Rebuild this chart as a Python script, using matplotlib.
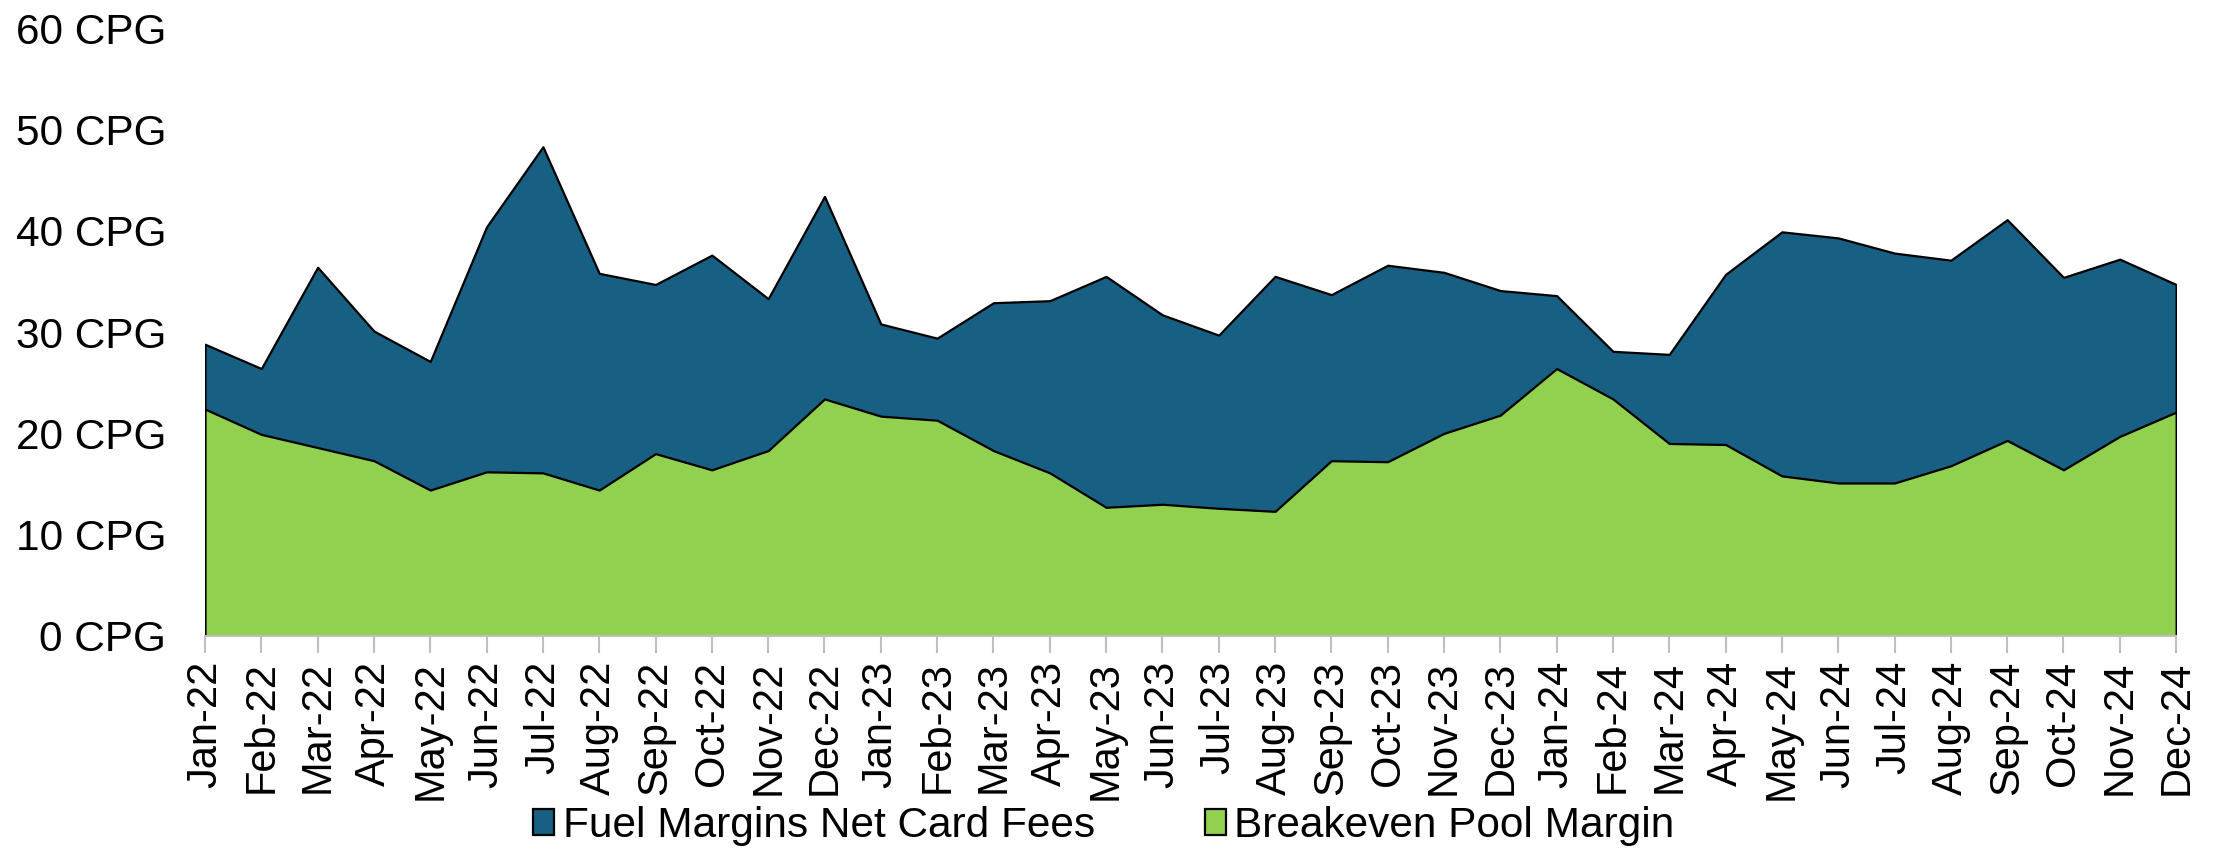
import numpy as np
import matplotlib.pyplot as plt

plt.rcParams['font.family'] = ['Liberation Sans', 'DejaVu Sans']

# Monthly labels
months = ['Jan-22', 'Feb-22', 'Mar-22', 'Apr-22', 'May-22', 'Jun-22', 'Jul-22', 'Aug-22',
          'Sep-22', 'Oct-22', 'Nov-22', 'Dec-22', 'Jan-23', 'Feb-23', 'Mar-23', 'Apr-23',
          'May-23', 'Jun-23', 'Jul-23', 'Aug-23', 'Sep-23', 'Oct-23', 'Nov-23', 'Dec-23',
          'Jan-24', 'Feb-24', 'Mar-24', 'Apr-24', 'May-24', 'Jun-24', 'Jul-24', 'Aug-24',
          'Sep-24', 'Oct-24', 'Nov-24', 'Dec-24']

# Fuel margins net card fees (CPG)
fuel_margin = [28.8, 26.4, 36.4, 30.1, 27.1, 40.4, 48.3, 35.8, 34.7, 37.6, 33.3, 43.4,
               30.8, 29.4, 32.9, 33.1, 35.5, 31.7, 29.7, 35.5, 33.7, 36.6, 35.9, 34.1,
               33.6, 28.1, 27.8, 35.7, 39.9, 39.3, 37.8, 37.1, 41.1, 35.4, 37.2, 34.7]

# Breakeven pool margin (CPG)
breakeven = [22.4, 19.9, 18.6, 17.3, 14.4, 16.2, 16.1, 14.4, 18.0, 16.4, 18.3, 23.4,
             21.7, 21.3, 18.3, 16.1, 12.7, 13.0, 12.6, 12.3, 17.3, 17.2, 20.0, 21.8,
             26.4, 23.4, 19.0, 18.9, 15.8, 15.1, 15.1, 16.8, 19.3, 16.4, 19.7, 22.1]

y_ticks = [0, 10, 20, 30, 40, 50, 60]

x = np.arange(len(months))

fig = plt.figure(figsize=(22.21, 8.57), dpi=100)
ax = fig.add_axes([0.0923, 0.258, 0.8875, 0.709])

ax.fill_between(x, 0, fuel_margin, facecolor='#176083', edgecolor='black',
                linewidth=1.6, label='Fuel Margins Net Card Fees', zorder=2)
ax.fill_between(x, 0, breakeven, facecolor='#92D050', edgecolor='black',
                linewidth=1.6, label='Breakeven Pool Margin', zorder=3)

ax.set_xlim(0, len(months) - 1)
ax.set_ylim(0, 60)
ax.set_yticks(y_ticks)
ax.set_yticklabels([f'{v} CPG' for v in y_ticks])
ax.set_xticks(x)
ax.set_xticklabels(months, rotation=90)

for side in ['top', 'right', 'left']:
    ax.spines[side].set_visible(False)
ax.spines['bottom'].set_color('#BFBFBF')
ax.spines['bottom'].set_linewidth(1.5)
ax.spines['bottom'].set_zorder(5)

ax.tick_params(axis='y', length=0, labelsize=30.5, pad=28)
ax.tick_params(axis='x', length=12, width=1.5, color='#BFBFBF', labelsize=30, pad=6)

handles, labels = ax.get_legend_handles_labels()
fig.legend(handles, labels, loc='center', bbox_to_anchor=(0.497, 0.036), ncol=2,
           frameon=False, fontsize=30.5, handlelength=0.5, handleheight=0.55,
           handletextpad=0.2, columnspacing=2.6)

fig.savefig('out.png', dpi=100)
